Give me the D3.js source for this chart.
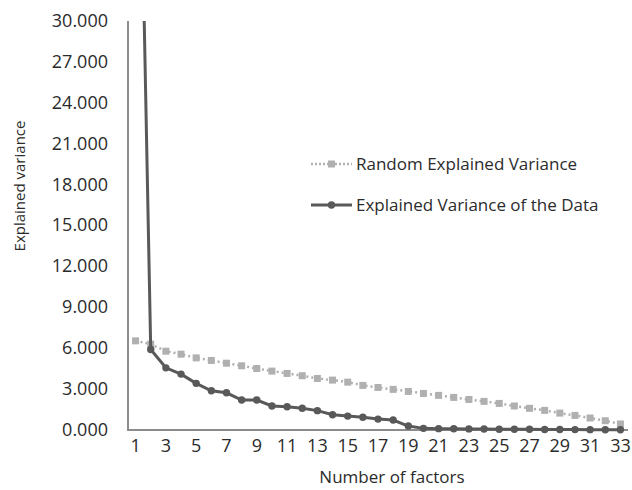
<!DOCTYPE html>
<html>
<head>
<meta charset="utf-8">
<script src="https://cdn.jsdelivr.net/npm/d3@7"></script>
<style>
  body { margin: 0; background: #fff; }
  text { font-family: "Open Sans", sans-serif; font-weight: 400; fill: #2b2b2b; }
</style>
</head>
<body>
<svg id="chart"></svg>
<script>
// scree plot: eigenvalues of the data vs random eigenvalues
var factors = d3.range(1, 34);
var randomVar = [6540, 6300, 5780, 5560, 5290, 5100, 4900, 4710, 4510, 4320,
                 4150, 3980, 3780, 3660, 3510, 3270, 3120, 2980, 2830, 2680,
                 2540, 2390, 2240, 2100, 1950, 1760, 1590, 1440, 1240, 1070,
                 880, 680, 440];
var dataVar = [62000, 5900, 4560, 4100, 3420, 2880, 2730, 2200, 2200, 1760,
               1710, 1590, 1420, 1120, 1020, 930, 800, 730, 290, 120,
               100, 90, 80, 70, 60, 55, 50, 40, 35, 30, 25, 20, 15];
var yTicks = [0, 3000, 6000, 9000, 12000, 15000, 18000, 21000, 24000, 27000, 30000];
var xTickLabels = factors.filter(function(d){ return d % 2 == 1; });
var seriesNames = ['Random Explained Variance', 'Explained Variance of the Data'];

var svgWidth = 632, svgHeight = 490;
var plotLeft = 128, plotRight = 628, plotTop = 21, plotBottom = 430;
var darkColor = '#595959', lightColor = '#b0b0b0';

var svg = d3.select('#chart')
    .attr('width', svgWidth)
    .attr('height', svgHeight);

var x = d3.scaleBand()
    .domain(factors)
    .range([plotLeft, plotRight]);

var y = d3.scaleLinear()
    .domain([0, 30000])
    .range([plotBottom, plotTop]);

function cx(d, i) { return x(factors[i]) + x.bandwidth() / 2; }

svg.append('clipPath').attr('id', 'plotclip')
    .append('rect')
    .attr('x', plotLeft - 10).attr('y', plotTop)
    .attr('width', plotRight - plotLeft + 20).attr('height', plotBottom - plotTop + 10);

// y labels
var yAxis = svg.append('g')
    .attr('transform', 'translate(' + plotLeft + ',0)')
    .call(d3.axisLeft(y).tickValues(yTicks).tickFormat(function(d){
        return d3.format('.3f')(d / 1000);
    }).tickSize(0).tickPadding(20));
yAxis.select('.domain').remove();
yAxis.selectAll('text')
    .attr('dy', '0.3em')
    .style('font-size', '18px')
    .style('fill', '#2b2b2b')
    .style('font-family', '"Open Sans", sans-serif');

// x labels
var xAxis = svg.append('g')
    .attr('transform', 'translate(0,' + plotBottom + ')')
    .call(d3.axisBottom(x).tickValues(xTickLabels).tickSize(0).tickPadding(9));
xAxis.select('.domain').remove();
xAxis.selectAll('text')
    .style('font-size', '18px')
    .style('fill', '#2b2b2b')
    .style('font-family', '"Open Sans", sans-serif');

// axis lines
svg.append('line')
    .attr('x1', plotLeft).attr('x2', plotLeft)
    .attr('y1', plotTop).attr('y2', plotBottom)
    .style('stroke', '#8c8c8c').style('stroke-width', 2);
svg.append('line')
    .attr('x1', plotLeft - 1).attr('x2', plotRight)
    .attr('y1', plotBottom).attr('y2', plotBottom)
    .style('stroke', '#8c8c8c').style('stroke-width', 2);

var plot = svg.append('g').attr('clip-path', 'url(#plotclip)');

var line = d3.line()
    .x(cx)
    .y(function(d){ return y(d); });

// random series
plot.append('path')
    .datum(randomVar)
    .attr('d', line)
    .style('fill', 'none')
    .style('stroke', lightColor)
    .style('stroke-width', 2.5)
    .style('stroke-dasharray', '2,3');
plot.selectAll('rect.rnd')
    .data(randomVar)
    .enter()
    .append('rect')
    .attr('class', 'rnd')
    .attr('x', function(d, i){ return cx(d, i) - 3.5; })
    .attr('y', function(d){ return y(d) - 3.5; })
    .attr('width', 7)
    .attr('height', 7)
    .style('fill', lightColor);

// data series
plot.append('path')
    .datum(dataVar)
    .attr('d', line)
    .style('fill', 'none')
    .style('stroke', darkColor)
    .style('stroke-width', 3);
plot.selectAll('circle.dat')
    .data(dataVar)
    .enter()
    .append('circle')
    .attr('class', 'dat')
    .attr('cx', cx)
    .attr('cy', function(d){ return y(d); })
    .attr('r', 3.7)
    .style('fill', darkColor);

// legend
var legend = svg.append('g');
var legendY = [164, 205];
legend.append('line')
    .attr('x1', 311).attr('x2', 352)
    .attr('y1', legendY[0]).attr('y2', legendY[0])
    .style('stroke', lightColor).style('stroke-width', 2.5)
    .style('stroke-dasharray', '2,2');
legend.append('rect')
    .attr('x', 328).attr('y', legendY[0] - 3.5)
    .attr('width', 7).attr('height', 7)
    .style('fill', lightColor);
legend.append('line')
    .attr('x1', 311).attr('x2', 352)
    .attr('y1', legendY[1]).attr('y2', legendY[1])
    .style('stroke', darkColor).style('stroke-width', 3);
legend.append('circle')
    .attr('cx', 331.5).attr('cy', legendY[1]).attr('r', 3.7)
    .style('fill', darkColor);
legend.selectAll('text')
    .data(seriesNames)
    .enter()
    .append('text')
    .attr('x', 356)
    .attr('y', function(d, i){ return legendY[i]; })
    .attr('dy', '0.35em')
    .style('font-size', '17px')
    .text(function(d){ return d; });

// axis titles
svg.append('text')
    .attr('transform', 'translate(20,186) rotate(-90)')
    .attr('text-anchor', 'middle')
    .attr('dy', '0.35em')
    .style('font-size', '15px')
    .text('Explained variance');
svg.append('text')
    .attr('x', 392)
    .attr('y', 477)
    .attr('text-anchor', 'middle')
    .attr('dy', '0.35em')
    .style('font-size', '17px')
    .text('Number of factors');
</script>
</body>
</html>
